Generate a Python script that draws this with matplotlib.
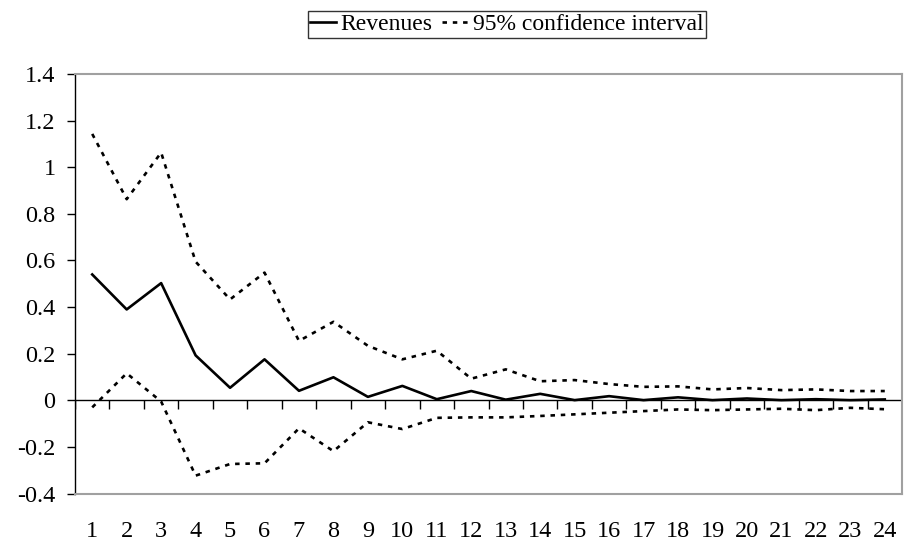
import matplotlib.pyplot as plt

plt.rcParams['font.family'] = ['Liberation Serif', 'DejaVu Serif']

periods = list(range(1, 25))
revenues = [0.54, 0.39, 0.503, 0.193, 0.054, 0.176, 0.041, 0.099, 0.015, 0.062,
            0.005, 0.04, 0.003, 0.028, 0.001, 0.018, 0.001, 0.013, 0.001, 0.008,
            0.001, 0.005, 0.001, 0.004]
upper = [1.143, 0.863, 1.063, 0.595, 0.433, 0.548, 0.255, 0.337, 0.234, 0.176,
         0.213, 0.093, 0.133, 0.082, 0.087, 0.07, 0.058, 0.06, 0.047, 0.053,
         0.044, 0.047, 0.04, 0.04]
lower = [-0.03, 0.116, -0.005, -0.323, -0.273, -0.27, -0.12, -0.218, -0.094, -0.123,
         -0.075, -0.073, -0.073, -0.067, -0.06, -0.053, -0.046, -0.039, -0.042, -0.039,
         -0.036, -0.042, -0.032, -0.038]

fig = plt.figure(figsize=(9.08, 5.45), dpi=100)
ax = fig.add_axes([0.0826, 0.0943, 0.9108, 0.7699])

dash = (0, (1.7, 2.2))
ax.plot(periods, revenues, color='black', lw=1.9, label='Revenues')
ax.plot(periods, upper, color='black', lw=1.9, linestyle=dash,
        label='95% confidence interval')
ax.plot(periods, lower, color='black', lw=1.9, linestyle=dash)

# category axis at zero with ticks between categories
ax.axhline(0, color='black', lw=1)
bounds = [p + 0.5 for p in [0] + periods]
ax.vlines(bounds, -0.035, 0, color='black', lw=1)

ax.set_xlim(0.5, 24.5)
ax.set_ylim(-0.4, 1.4)
ax.set_yticks([-0.4, -0.2, 0, 0.2, 0.4, 0.6, 0.8, 1, 1.2, 1.4])
ax.set_yticklabels(['-0.4', '-0.2', '0', '0.2', '0.4', '0.6', '0.8', '1', '1.2', '1.4'])
ax.set_xticks(periods)
ax.set_xticklabels([str(p) for p in periods])
ax.tick_params(axis='x', length=0, pad=20, labelsize=17.5)
ax.tick_params(axis='y', length=6, width=1, direction='out', pad=8, labelsize=17.5)

for s in ['top', 'right', 'bottom']:
    ax.spines[s].set_color('#a0a0a0')
    ax.spines[s].set_linewidth(1.5)
ax.spines['left'].set_color('black')
ax.spines['left'].set_linewidth(1)

leg = fig.legend(loc='center', bbox_to_anchor=(0.558, 0.955), ncol=2,
                 fontsize=17, frameon=True, fancybox=False, edgecolor='black',
                 handlelength=1.1, handletextpad=0.2, columnspacing=0.4,
                 borderpad=0.1, borderaxespad=0)
leg.get_frame().set_linewidth(1)

fig.savefig('out.png', dpi=100)
